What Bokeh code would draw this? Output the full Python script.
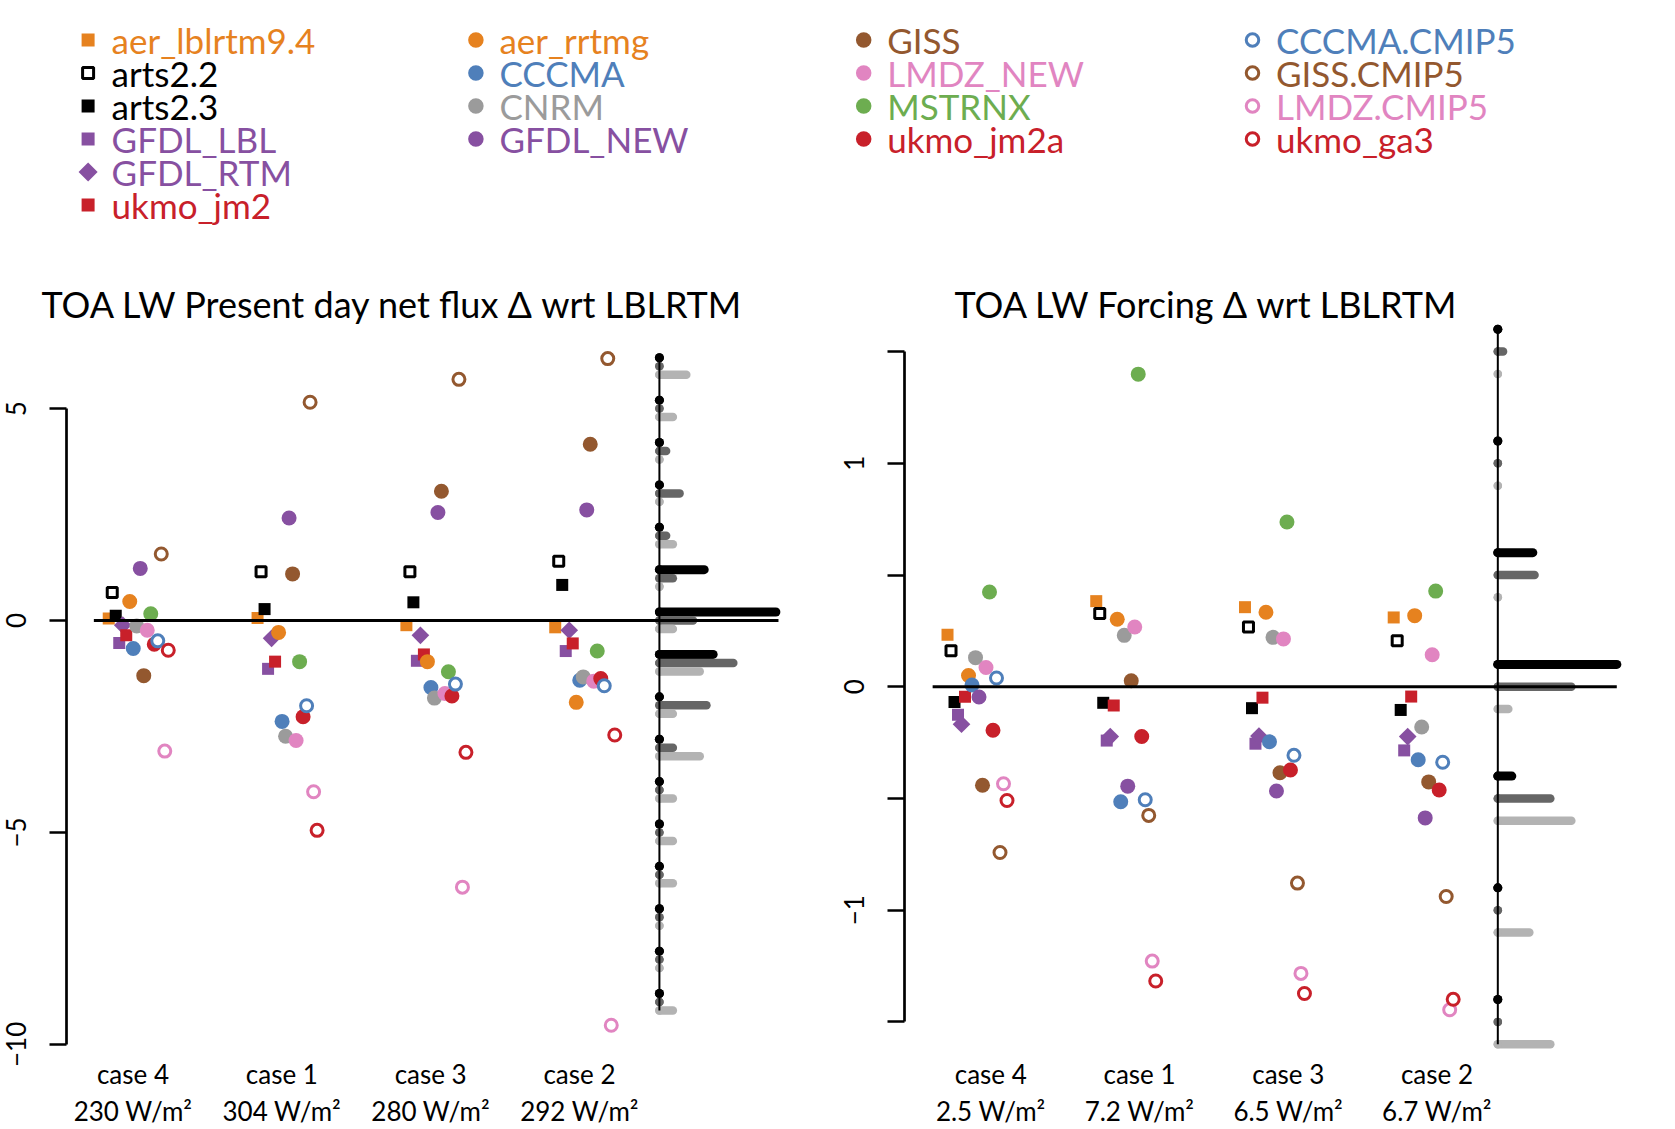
import numpy as np
from bokeh.plotting import figure
from bokeh.layouts import column, row
from bokeh.models import Range1d, FixedTicker, LinearAxis, ColumnDataSource
from bokeh.embed import file_html
from bokeh.resources import INLINE
from bokeh.core.properties import value

# ---------------- data ----------------
models = ["aer_lblrtm9.4", "arts2.2", "arts2.3", "GFDL_LBL", "GFDL_RTM", "ukmo_jm2",
          "aer_rrtmg", "CCCMA", "CNRM", "GFDL_NEW", "GISS", "LMDZ_NEW", "MSTRNX", "ukmo_jm2a",
          "CCCMA.CMIP5", "GISS.CMIP5", "LMDZ.CMIP5", "ukmo_ga3"]

ORANGE, BLACK, PURPLE, RED = "#E6821F", "#000000", "#8750A1", "#C8202A"
BLUE, GRAY, BROWN, PINK, GREEN = "#4F7FBA", "#9B9B9B", "#93582F", "#E185C1", "#6DAD50"
model_colors = [ORANGE, BLACK, BLACK, PURPLE, PURPLE, RED,
                ORANGE, BLUE, GRAY, PURPLE, BROWN, PINK, GREEN, RED,
                BLUE, BROWN, PINK, RED]
model_markers = ["square", "open_square", "square", "square", "diamond", "square",
                 "circle", "circle", "circle", "circle", "circle", "circle", "circle", "circle",
                 "ring", "ring", "ring", "ring"]

case_names = ["case 4", "case 1", "case 3", "case 2"]
net_flux_labels = ["230 W/m²", "304 W/m²", "280 W/m²", "292 W/m²"]
forcing_labels = ["2.5 W/m²", "7.2 W/m²", "6.5 W/m²", "6.7 W/m²"]

# TOA LW present-day net flux difference wrt LBLRTM (W/m2), one value per model
net_case4 = [0.05, 0.66, 0.11, -0.53, -0.11, -0.35, 0.45, -0.66, -0.13, 1.23, -1.30, -0.23, 0.16, -0.56, -0.48, 1.57, -3.08, -0.70]
net_case1 = [0.06, 1.15, 0.27, -1.14, -0.42, -0.97, -0.28, -2.38, -2.73, 2.42, 1.10, -2.83, -0.97, -2.27, -2.01, 5.15, -4.04, -4.95]
net_case3 = [-0.11, 1.15, 0.43, -0.95, -0.35, -0.80, -0.97, -1.58, -1.83, 2.55, 3.05, -1.72, -1.21, -1.78, -1.50, 5.69, -6.29, -3.11]
net_case2 = [-0.16, 1.40, 0.84, -0.72, -0.23, -0.54, -1.93, -1.41, -1.33, 2.61, 4.16, -1.43, -0.72, -1.37, -1.54, 6.18, -9.55, -2.70]

# TOA LW forcing difference wrt LBLRTM (W/m2)
frc_case4 = [0.233, 0.161, -0.068, -0.125, -0.168, -0.045, 0.050, 0.008, 0.130, -0.046, -0.441, 0.086, 0.424, -0.195, 0.039, -0.742, -0.434, -0.509]
frc_case1 = [0.383, 0.328, -0.072, -0.241, -0.223, -0.084, 0.302, -0.515, 0.230, -0.445, 0.027, 0.267, 1.399, -0.223, -0.506, -0.576, -1.228, -1.317]
frc_case3 = [0.356, 0.267, -0.096, -0.255, -0.221, -0.049, 0.333, -0.246, 0.221, -0.467, -0.385, 0.214, 0.737, -0.373, -0.307, -0.879, -1.283, -1.373]
frc_case2 = [0.310, 0.206, -0.104, -0.285, -0.223, -0.044, 0.318, -0.327, -0.180, -0.587, -0.426, 0.143, 0.428, -0.462, -0.338, -0.939, -1.446, -1.399]

# histogram counts read from the side strips (black: LBL, dark grey: new GCM codes, light grey: CMIP5)
net_bins = [6, 5, 4, 3, 2, 1, 0, -1, -2, -3, -4, -5, -6, -7, -8, -9]
net_hist_lbl = [0, 0, 0, 0, 0, 5, 13, 6, 0, 0, 0, 0, 0, 0, 0, 0]
net_hist_gcm = [0, 0, 1, 3, 1, 2, 5, 11, 7, 2, 0, 0, 0, 0, 0, 0]
net_hist_cmip5 = [2, 1, 0, 0, 1, 0, 1, 3, 1, 3, 1, 1, 1, 0, 0, 1]

frc_bins = [1.5, 1.0, 0.5, 0.0, -0.5, -1.0, -1.5]
frc_hist_lbl = [0, 0, 5, 17, 2, 0, 0]
frc_hist_gcm = [1, 0, 7, 14, 10, 0, 0]
frc_hist_cmip5 = [0, 0, 0, 1, 7, 3, 5]

# ---------------- styling / layout ----------------
FONT = "Lato"
H_LEG, H_PLOT = 250, 879
DODGE = np.linspace(-0.2, 0.2, len(models))
HIST_COLORS = ["#000000", "#666666", "#B3B3B3"]
HIST_WIDTHS = [9, 8.5, 8.5]


def add_points(p, cases, shift):
    xs_case = np.arange(1, 5) + shift
    for i, m in enumerate(models):
        ys = [c[i] for c in cases]
        xs = xs_case + DODGE[i]
        col = model_colors[i]
        mk = model_markers[i]
        if mk == "square":
            p.scatter(xs, ys, marker="square", size=12, fill_color=col, line_color=None)
        elif mk == "open_square":
            p.scatter(xs, ys, marker="square", size=10, fill_color="white", line_color=col, line_width=3)
        elif mk == "diamond":
            p.scatter(xs, ys, marker="square", angle=np.pi / 4, size=12.5, fill_color=col, line_color=None)
        elif mk == "circle":
            p.scatter(xs, ys, marker="circle", size=15, fill_color=col, line_color=None)
        else:
            p.scatter(xs, ys, marker="circle", size=12, fill_color="white", line_color=col, line_width=3)


def make_panel(cases, shift, xr, yr, width, border_right, yticks, yover, ybounds,
               bins, hists, binw, K, lab2, title, title_offset):
    p = figure(width=width, height=H_PLOT, x_range=Range1d(*xr), y_range=Range1d(*yr),
               output_backend="svg", toolbar_location=None, x_axis_type=None, y_axis_type=None,
               min_border_left=66, min_border_right=border_right, min_border_top=68,
               min_border_bottom=69, title=title)
    p.outline_line_color = None
    p.background_fill_color = "white"
    p.border_fill_color = "white"
    p.title.align = "left"
    p.title.offset = title_offset
    p.title.standoff = -14
    p.title.text_font = FONT
    p.title.text_font_size = "36px"
    p.title.text_font_style = "normal"
    p.title.text_color = "black"

    yax = LinearAxis(ticker=FixedTicker(ticks=yticks), bounds=ybounds,
                     major_label_overrides=yover, major_label_orientation="vertical",
                     major_tick_out=17, major_tick_in=0, minor_tick_out=0, minor_tick_in=0,
                     major_label_standoff=23, axis_line_width=2.7, major_tick_line_width=2.7,
                     major_label_text_font=FONT, major_label_text_font_size="26px",
                     major_label_text_color="black")
    p.add_layout(yax, "left")

    for labels, standoff in ((case_names, 3), (lab2, 2)):
        ax = LinearAxis(ticker=FixedTicker(ticks=[1, 2, 3, 4]),
                        major_label_overrides={k + 1: t for k, t in enumerate(labels)},
                        axis_line_color=None, major_tick_line_color=None,
                        minor_tick_line_color=None, major_tick_out=0, major_tick_in=0,
                        major_label_standoff=standoff, major_label_text_font=FONT,
                        major_label_text_font_size="26px", major_label_text_color="black")
        p.add_layout(ax, "below")

    add_points(p, cases, shift)

    # side histogram strip
    x0 = 4.5 + shift
    bins = np.asarray(bins, dtype=float)
    offsets = [0.2, 0.0, -0.2]
    for h, off, colr, lw in zip(hists, offsets, HIST_COLORS, HIST_WIDTHS):
        h = np.asarray(h, dtype=float)
        ys = bins + off * binw
        length = h / h.sum() * K
        p.segment(x0, ys, x0 + length, ys, line_width=lw, line_color=colr, line_cap="round")
        p.scatter(np.full(len(ys), x0), ys, marker="circle", size=lw, fill_color=colr, line_color=None)
    p.segment(x0, bins.max() + 0.2 * binw, x0, bins.min() - 0.2 * binw, line_width=2, line_color="black")

    # zero line
    p.segment(0.7 + shift, 0, 5.3 + shift, 0, line_width=3, line_color="black")
    return p


left = make_panel([net_case4, net_case1, net_case3, net_case2], 0.037,
                  (0.5532, 5.485), (-10.239, 7.126), 838, 38,
                  [-10, -5, 0, 5], {-10: "−10", -5: "−5", 0: "0", 5: "5"}, (-10, 5),
                  net_bins, [net_hist_lbl, net_hist_gcm, net_hist_cmip5], 1.0, 1.445,
                  net_flux_labels, "TOA LW Present day net flux Δ wrt LBLRTM", -25)

right = make_panel([frc_case4, frc_case1, frc_case3, frc_case2], -0.091,
                   (0.4198, 5.3684), (-1.646, 1.648), 837, 35,
                   [-1.5, -1, -0.5, 0, 0.5, 1, 1.5],
                   {-1.5: "", -1: "−1", -0.5: "", 0: "0", 0.5: "", 1: "1", 1.5: ""}, (-1.5, 1.5),
                   frc_bins, [frc_hist_lbl, frc_hist_gcm, frc_hist_cmip5], 0.5, 1.13,
                   forcing_labels, "TOA LW Forcing Δ wrt LBLRTM", 50)

# ---------------- legend ----------------
leg = figure(width=1675, height=H_LEG, x_range=Range1d(0, 1675), y_range=Range1d(H_LEG, 0),
             output_backend="svg", toolbar_location=None, x_axis_type=None, y_axis_type=None,
             min_border=0)
leg.outline_line_color = None
col_x = [87.6, 475.4, 863.2, 1252.0]
leg_col = [0] * 6 + [1] * 4 + [2] * 4 + [3] * 4
leg_row = list(range(6)) + list(range(4)) * 3
lx = np.array([col_x[c] for c in leg_col])
ly = 39.5 + 33.0 * np.array(leg_row)
for i, m in enumerate(models):
    mk = model_markers[i]
    col = model_colors[i]
    if mk == "square":
        leg.scatter([lx[i]], [ly[i]], marker="square", size=13, fill_color=col, line_color=None)
    elif mk == "open_square":
        leg.scatter([lx[i]], [ly[i]], marker="square", size=11, fill_color="white", line_color=col, line_width=3)
    elif mk == "diamond":
        leg.scatter([lx[i]], [ly[i]], marker="square", angle=np.pi / 4, size=13.5, fill_color=col, line_color=None)
    elif mk == "circle":
        leg.scatter([lx[i]], [ly[i]], marker="circle", size=15.5, fill_color=col, line_color=None)
    else:
        leg.scatter([lx[i]], [ly[i]], marker="circle", size=12.5, fill_color="white", line_color=col, line_width=3)
src = ColumnDataSource(dict(x=lx + 23.5, y=ly, t=models, c=model_colors))
leg.text(x="x", y="y", text="t", text_color="c", source=src, text_font=value(FONT),
         text_font_size=value("35px"), text_baseline="middle", text_align="left")

layout = column(leg, row(left, right, spacing=0), spacing=0)
open("out.html", "w").write(file_html(layout, INLINE))
